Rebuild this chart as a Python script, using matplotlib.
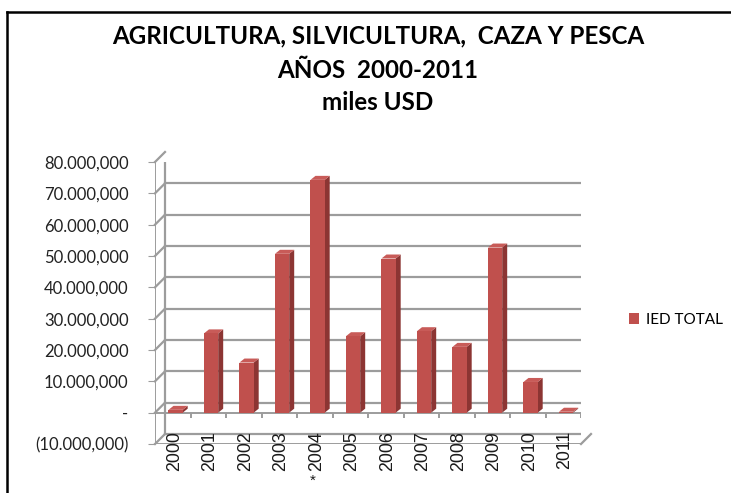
import matplotlib
matplotlib.use("Agg")
import matplotlib.pyplot as plt
from matplotlib.lines import Line2D
from matplotlib.patches import Polygon, Patch
from matplotlib.transforms import offset_copy, IdentityTransform

plt.rcParams['font.family'] = ['Lato', 'DejaVu Sans']

years = ['2000', '2001', '2002', '2003', '2004', '2005',
         '2006', '2007', '2008', '2009', '2010', '2011']
year_labels = ['2000', '2001', '2002', '2003', '*2004', '2005',
               '2006', '2007', '2008', '2009', '2010', '2011']
ied_total = [900000, 25300000, 16000000, 50700000, 74300000, 24400000,
             49200000, 26000000, 21000000, 52700000, 9800000, 300000]
y_ticks = [-10000000, 0, 10000000, 20000000, 30000000, 40000000,
           50000000, 60000000, 70000000, 80000000]

RED = '#C0504D'
TOP = '#C85B58'
DARK = '#8C3533'
GRID = '#9C9C9C'


def fmt(v):
    if v == 0:
        return '-'
    s = '{:,}'.format(abs(int(v)))
    parts = s.split(',')
    # excel style: dot for millions, comma for thousands
    s = '.'.join(parts[:-2]) + '.' + parts[-2] + ',' + parts[-1] if len(parts) > 2 else s
    return '(' + s + ')' if v < 0 else s


fig = plt.figure(figsize=(7.31, 4.93), dpi=100)
ax = fig.add_axes([155 / 731, 49 / 493, 426 / 731, 282 / 493])
ax.set_xlim(-0.5, len(years) - 0.5)
ax.set_ylim(y_ticks[0], y_ticks[-1])
for s in ax.spines.values():
    s.set_visible(False)
ax.set_xticks([])
ax.set_yticks(y_ticks)
ax.set_yticklabels([fmt(v) for v in y_ticks], fontsize=12, color='#222222')
ax.tick_params(axis='y', length=5, color=GRID, pad=14)

back = offset_copy(ax.transData, fig=fig, x=10, y=10, units='dots')
x0, x1 = -0.5, len(years) - 0.5

# back wall gridlines
for v in y_ticks:
    ax.plot([x0, x1 + 0.05], [v, v], color=GRID, lw=1.6, transform=back, zorder=1)
ax.plot([x0, x0], [y_ticks[0], y_ticks[-1]], color=GRID, lw=1.6, transform=back, zorder=1)

# left side diagonals
fig.canvas.draw()
ident = IdentityTransform()
for v in y_ticks:
    p = ax.transData.transform((x0, v))
    fig.add_artist(Line2D([p[0], p[0] + 10], [p[1], p[1] + 10], color=GRID, lw=1.6,
                          transform=ident))
p = ax.transData.transform((x1, y_ticks[0]))
fig.add_artist(Line2D([p[0], p[0] + 10], [p[1], p[1] + 10], color=GRID, lw=1.6,
                      transform=ident))

# front axis lines
ax.plot([x0, x0], [y_ticks[0], y_ticks[-1]], color=GRID, lw=1.4, zorder=2)
ax.plot([x0, x1], [0, 0], color=GRID, lw=1.4, zorder=2)
ax.plot([x0, x1], [y_ticks[0], y_ticks[0]], color=GRID, lw=1.4, zorder=2)
ax.vlines([i - 0.5 for i in range(len(years) + 1)], -1600000, 0, color=GRID, lw=1.4, zorder=2)

# bars with depth faces
xs = [i + 0.08 for i in range(len(years))]
bars = ax.bar(xs, ied_total, width=0.4, color=RED, zorder=4, label='IED TOTAL')
dx, dy = 5, 4
for b in bars:
    (xl, yb), (xr, yt) = ax.transData.transform([(b.get_x(), 0),
                                                  (b.get_x() + b.get_width(), b.get_height())])
    side = Polygon([(xr, yb), (xr + dx, yb + dy), (xr + dx, yt + dy), (xr, yt)],
                   closed=True, facecolor=DARK, edgecolor='none', transform=ident, zorder=3)
    top = Polygon([(xl, yt), (xl + dx, yt + dy), (xr + dx, yt + dy), (xr, yt)],
                  closed=True, facecolor=TOP, edgecolor='none', transform=ident, zorder=3)
    ax.add_artist(side)
    ax.add_artist(top)

for i, lab in enumerate(year_labels):
    ax.text(i + 0.05, -5900000, lab.replace('*', ''), rotation=90, ha='center', va='top',
            fontsize=12.8, family=['Liberation Sans'], color='#1a1a1a', zorder=5)
    if lab.startswith('*'):
        ax.text(i - 0.05, -21600000, '*', ha='center', va='center', fontsize=11,
                family=['Liberation Sans'], color='#1a1a1a', clip_on=False)

# legend
ax.legend(handles=[Patch(facecolor=RED, label='IED TOTAL')], loc='center left',
          bbox_to_anchor=(1.08, 0.44), frameon=False,
          handlelength=0.65, handleheight=0.65, handletextpad=0.5, fontsize=11)

# titles
fig.text(378 / 731, 1 - 36 / 493, 'AGRICULTURA, SILVICULTURA,  CAZA Y PESCA', ha='center',
         va='center', fontsize=17.4, fontweight='bold')
fig.text(378 / 731, 1 - 70 / 493, 'AÑOS  2000-2011', ha='center', va='center',
         fontsize=17.4, fontweight='bold')
fig.text(378 / 731, 1 - 103 / 493, 'miles USD', ha='center', va='center',
         fontsize=17.4, fontweight='bold')

# frame
fig.add_artist(Line2D([7 / 731, 1], [1 - 12 / 493, 1 - 12 / 493], color='black', lw=1.8))
fig.add_artist(Line2D([7 / 731, 7 / 731], [0, 1 - 12 / 493], color='black', lw=1.8))

fig.savefig('out.png', dpi=100, facecolor='white')
